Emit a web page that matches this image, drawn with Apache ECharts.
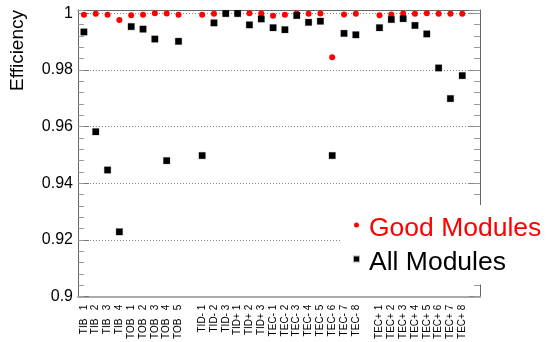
<!DOCTYPE html>
<html><head><meta charset="utf-8">
<script src="https://cdn.jsdelivr.net/npm/echarts@6/dist/echarts.min.js"></script>
<style>html,body{margin:0;padding:0;background:#fff}#c{width:547px;height:342px}</style>
</head><body><div id="c"></div><script>
// ---- data ----
const categories = [
  "TIB   1","TIB   2","TIB   3","TIB   4",
  "TOB   1","TOB   2","TOB   3","TOB   4","TOB   5",
  "",
  "TID- 1","TID- 2","TID- 3","TID+ 1","TID+ 2","TID+ 3",
  "TEC- 1","TEC- 2","TEC- 3","TEC- 4","TEC- 5","TEC- 6","TEC- 7","TEC- 8",
  "",
  "TEC+ 1","TEC+ 2","TEC+ 3","TEC+ 4","TEC+ 5","TEC+ 6","TEC+ 7","TEC+ 8",
  ""
];
const goodModules = [
  0.9995, 0.9998, 0.9995, 0.9976,
  0.9993, 0.9995, 1.0000, 0.99995, 0.9995,
  null,
  0.9995, 0.9998, 0.9999, 0.9999, 1.0000, 0.9999,
  0.9991, 0.9995, 0.99995, 0.9998, 0.9999, 0.9845, 0.9996, 0.9998,
  null,
  0.9993, 0.9996, 0.9999, 0.9998, 1.0000, 0.9998, 0.9998, 0.9998,
  null
];
const allModules = [
  0.9934, 0.9582, 0.9447, 0.9229,
  0.9953, 0.9944, 0.9909, 0.9480, 0.9901,
  null,
  0.9498, 0.9966, 0.9999, 0.9999, 0.9959, 0.9980,
  0.9949, 0.9942, 0.9992, 0.9968, 0.9972, 0.9498, 0.9929, 0.9924,
  null,
  0.9949, 0.9978, 0.9981, 0.9957, 0.9927, 0.9807, 0.9699, 0.9780,
  null
];
const yTickValues = [0.9, 0.92, 0.94, 0.96, 0.98, 1];
const seriesNames = ["Good Modules", "All Modules"];
const yMin = 0.9, yMax = 1.00115;

// ---- chart ----
const FONT = '"Liberation Sans", Arial, Helvetica, sans-serif';
const chart = echarts.init(document.getElementById('c'), null, {renderer: 'canvas'});

function yAxisDef(position, interval, tickLen, tickColor, withLabels, withLine) {
  return {
    type: 'value', position: position, min: yMin, max: yMax, interval: interval,
    axisLine: {show: withLine, lineStyle: {color: '#666', width: 1}},
    axisTick: Object.assign({show: true, inside: true, length: tickLen, lineStyle: {color: tickColor, width: 1}},
      withLabels ? {customValues: yTickValues} : {}),
    axisLabel: withLabels ? {show: true, customValues: yTickValues, color: '#000', fontFamily: FONT, fontSize: 16, margin: 5} : {show: false},
    splitLine: withLabels ? {show: true, lineStyle: {color: '#888', width: 1, type: [1, 2]}} : {show: false},
    minorTick: {show: false}
  };
}

const legendTok = {fontFamily: FONT, fontSize: 26.5, lineHeight: 27, padding: [8, 0, 0, 5]};

chart.setOption({
  animation: false,
  backgroundColor: '#fff',
  grid: {left: 78, right: 67, top: 10, bottom: 43, containLabel: false},
  xAxis: [
    {
      type: 'category', data: categories, position: 'bottom', boundaryGap: true,
      axisLine: {show: true, lineStyle: {color: '#aaa', width: 2}},
      axisTick: {show: false},
      axisLabel: {show: true, interval: 0, rotate: 90, color: '#000', fontFamily: FONT, fontSize: 10, margin: 8},
      splitLine: {show: false}
    },
    {
      type: 'category', data: categories, position: 'top', boundaryGap: true,
      axisLine: {show: true, lineStyle: {color: '#666', width: 1}},
      axisTick: {show: false}, axisLabel: {show: false}, splitLine: {show: false}
    }
  ],
  yAxis: [
    yAxisDef('left', 0.02, 11, '#777', true, true),
    yAxisDef('left', 0.004, 6, '#999', false, false),
    yAxisDef('right', 0.02, 11, '#888', false, true),
    yAxisDef('right', 0.004, 6, '#999', false, false)
  ],
  legend: {
    orient: 'vertical', left: 342, top: 205,
    padding: [2.5, 6, 8, 11], itemGap: -1, itemWidth: 5, itemHeight: 5,
    backgroundColor: '#fff', selectedMode: false,
    formatter: function (name) { return (name === seriesNames[0] ? '{g|' : '{a|') + name + '}'; },
    textStyle: {
      fontFamily: FONT, fontSize: 26.5,
      rich: {
        g: Object.assign({color: '#ff0000'}, legendTok),
        a: Object.assign({color: '#000000'}, legendTok)
      }
    },
    data: [
      {name: seriesNames[0], icon: 'circle'},
      {name: seriesNames[1], icon: 'rect'}
    ]
  },
  graphic: [{
    type: 'text', x: 17.5, y: 10, rotation: Math.PI / 2,
    style: {text: 'Efficiency', fill: '#000', font: '19px ' + FONT, align: 'right', verticalAlign: 'middle'}
  }],
  series: [
    {
      name: seriesNames[0], type: 'scatter', xAxisIndex: 0, yAxisIndex: 0,
      symbol: 'circle', symbolSize: 6, data: goodModules,
      itemStyle: {color: '#ff0000', opacity: 1}
    },
    {
      name: seriesNames[1], type: 'scatter', xAxisIndex: 0, yAxisIndex: 0,
      symbol: 'rect', symbolSize: 6.5, data: allModules,
      itemStyle: {color: '#000000', opacity: 1, borderColor: 'rgba(0,0,0,0.3)', borderWidth: 0.8}
    }
  ]
});
</script></body></html>
